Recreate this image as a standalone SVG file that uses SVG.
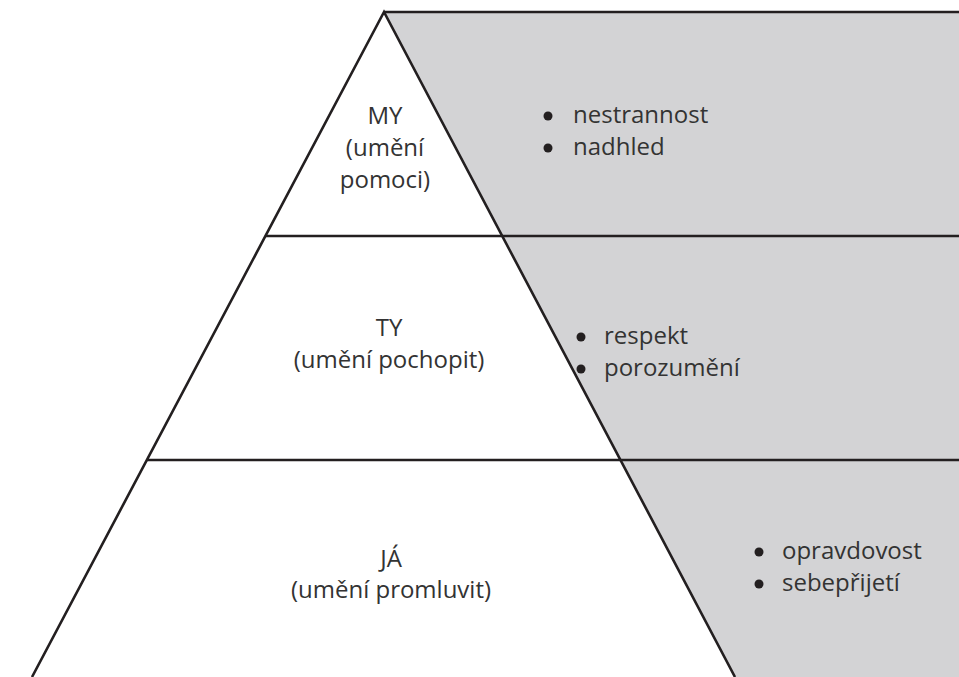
<svg xmlns="http://www.w3.org/2000/svg" width="959" height="677" viewBox="0 0 959 677">
<style>
.ln{stroke:#231f20;stroke-width:2.6;fill:none;stroke-linecap:butt}
.t{font-family:"Open Sans","Noto Sans",sans-serif;font-size:24px;fill:#333333}
.c{text-anchor:middle}
.b{fill:#231f20}
</style>
<rect width="959" height="677" fill="#ffffff"/>
<polygon points="384,12 959,12 959,677 735,677" fill="#d3d3d5"/>
<g id="connectors">
<polyline class="ln" points="32,677 384,12 735,677"/>
<line class="ln" x1="384" y1="12" x2="959" y2="12"/>
<line class="ln" x1="266" y1="236" x2="959" y2="236"/>
<line class="ln" x1="147" y1="460" x2="959" y2="460"/>
</g>
<g id="my">
<text class="t c" x="385" y="124">MY</text>
<text class="t c" x="385" y="156">(umění</text>
<text class="t c" x="385" y="188">pomoci)</text>
</g>
<g id="ty">
<text class="t c" x="389" y="336">TY</text>
<text class="t c" x="389" y="368">(umění pochopit)</text>
</g>
<g id="ja">
<text class="t c" x="391" y="567">JÁ</text>
<text class="t c" x="391" y="598">(umění promluvit)</text>
</g>
<g id="my-traits">
<circle class="b" cx="548" cy="116" r="4.5"/>
<text class="t" x="573" y="123">nestrannost</text>
<circle class="b" cx="548" cy="148" r="4.5"/>
<text class="t" x="573" y="155">nadhled</text>
</g>
<g id="ty-traits">
<circle class="b" cx="581" cy="337" r="4.5"/>
<text class="t" x="604" y="344">respekt</text>
<circle class="b" cx="581" cy="369" r="4.5"/>
<text class="t" x="604" y="376">porozumění</text>
</g>
<g id="ja-traits">
<circle class="b" cx="759" cy="552" r="4.5"/>
<text class="t" x="782" y="559">opravdovost</text>
<circle class="b" cx="759" cy="584" r="4.5"/>
<text class="t" x="782" y="591">sebepřijetí</text>
</g>
</svg>
